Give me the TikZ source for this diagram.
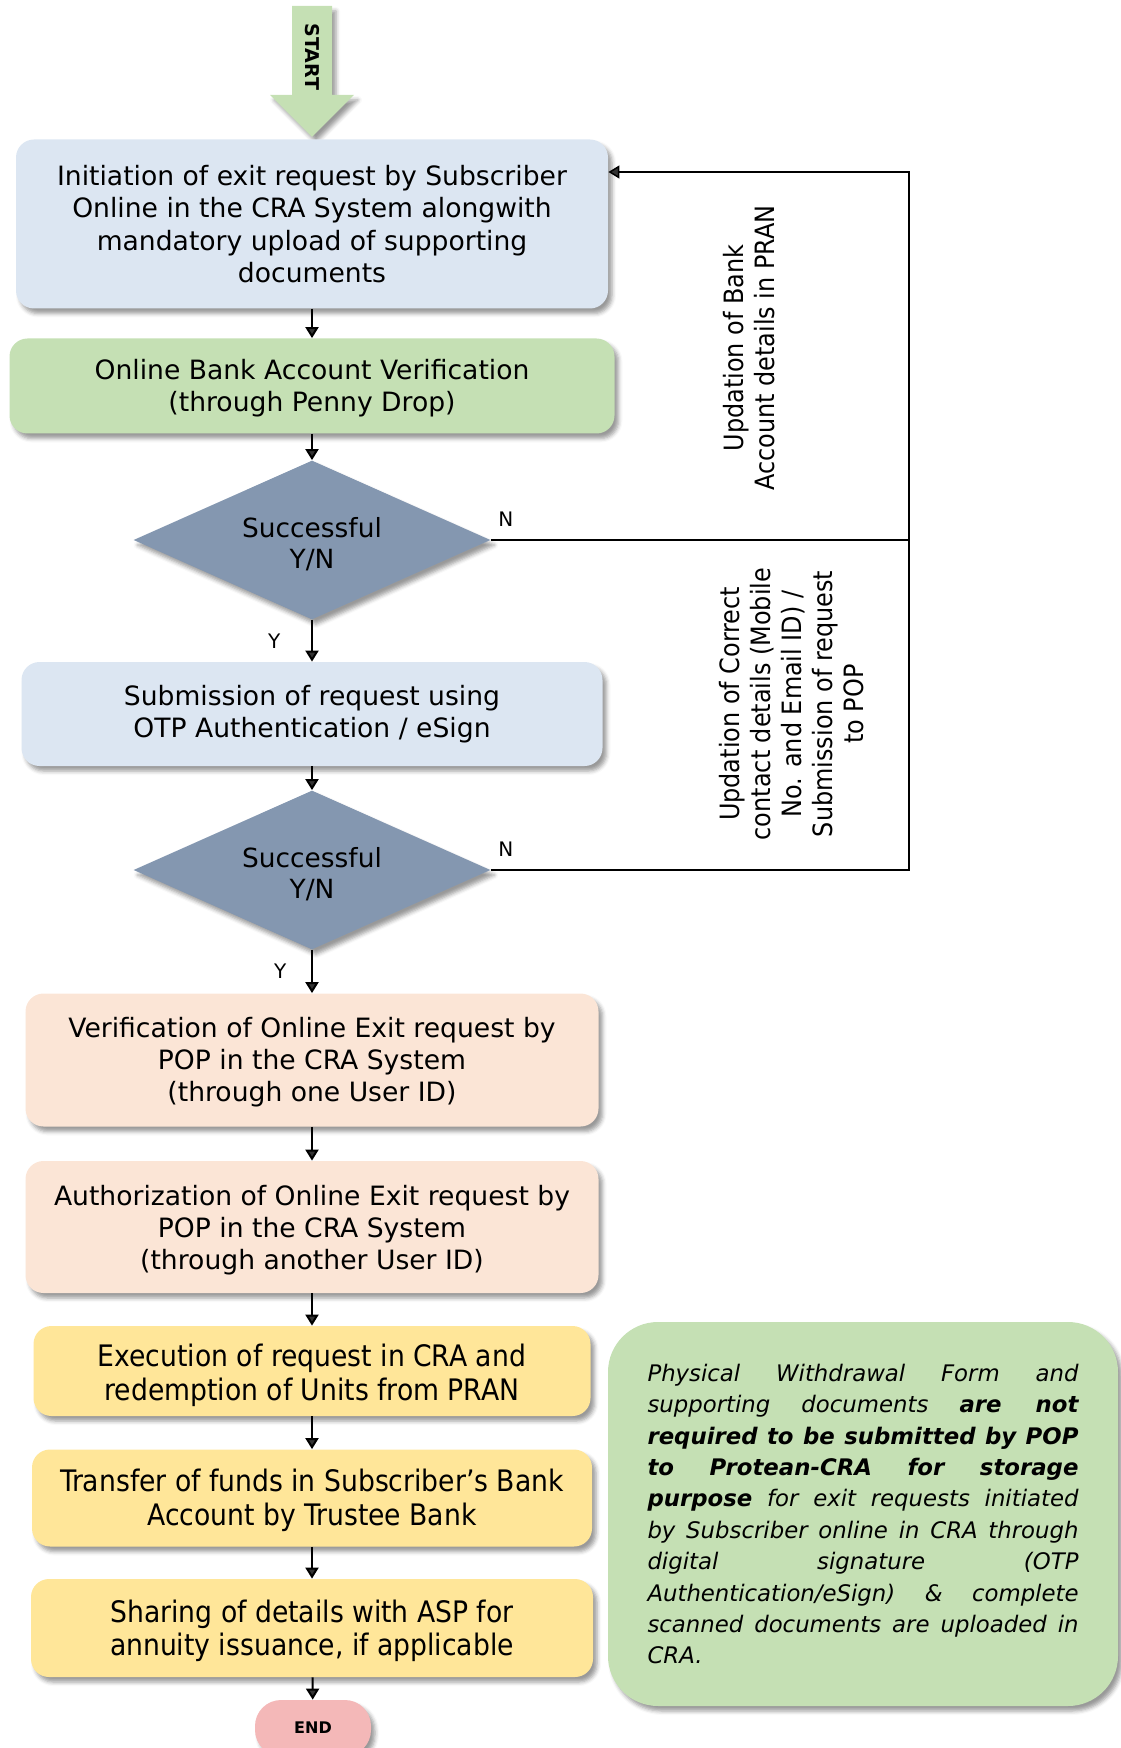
\documentclass[tikz,border=0pt]{standalone}
\usepackage{fontspec}
\setmainfont{DejaVu Sans}
\newfontfamily\condfont{DejaVu Sans Condensed}
\usetikzlibrary{arrows.meta, shapes.geometric, shadows.blur}
\definecolor{boxblue}{HTML}{DCE6F2}
\definecolor{boxgreen}{HTML}{C5E0B4}
\definecolor{boxslate}{HTML}{8497B0}
\definecolor{boxpeach}{HTML}{FBE5D6}
\definecolor{boxyellow}{HTML}{FFE699}
\definecolor{boxpink}{HTML}{F4B8B8}
\newcommand{\dropped}[2]{\raisebox{-#1}[\height][\depth]{\begin{tabular}{@{}c@{}}#2\end{tabular}}}
\tikzset{
	exit flow/.cd,
	shadowed/.style = {
		blur shadow = {shadow xshift = 2pt, shadow yshift = -2.5pt, shadow blur radius = 2pt, shadow opacity = 40}
	},
	box/.style = {
		exit flow/shadowed,
		rounded corners = 9pt,
		align = center,
		inner sep = 0pt,
		font = \fontsize{13.3}{16.2}\selectfont
	},
	arrow/.style = {
		line width = 1pt,
		-{Triangle[length = 5.5pt, width = 6.5pt]}
	},
	loop/.style = {
		line width = 0.75pt
	},
}

\begin{document}
\begin{tikzpicture}[
		x = 0.5pt, y = -0.5pt,
		decision/.style = {
			exit flow/shadowed,
			diamond, aspect = 2.25,
			fill = boxslate,
			inner sep = 0pt,
			minimum width = 178.5pt, minimum height = 79.5pt,
			align = center,
			font = \fontsize{13.2}{15.6}\selectfont
		},
		answer/.style = {
			font = \fontsize{10}{12}\selectfont
		}]
		\useasboundingbox (0, 0) rectangle (1120, 1748);
		% start arrow
		\fill[boxgreen, exit flow/shadowed] (292, 6) -- (332, 6) -- (332, 95) -- (354, 95) -- (312, 137) -- (270, 95) -- (292, 95) -- cycle;
		\node[rotate = -90, font = \bfseries\fontsize{9.5}{11}\selectfont] (start) at (312, 57) {START};
		% main column
		\node[exit flow/box, fill = boxblue, minimum width = 296pt, minimum height = 84.5pt] (init) at (312, 224) {Initiation of exit request by Subscriber\\Online in the CRA System alongwith\\mandatory upload of supporting\\documents};
		\node[exit flow/box, fill = boxgreen, minimum width = 302.5pt, minimum height = 47.5pt] (penny) at (312, 386) {\dropped{1.5pt}{Online Bank Account Verification\\(through Penny Drop)}};
		\node[decision] (okbank) at (312, 540) {\dropped{3.3pt}{Successful\\Y/N}};
		\node[exit flow/box, fill = boxblue, minimum width = 290.5pt, minimum height = 52pt] (otp) at (312, 714) {Submission of request using\\OTP Authentication / eSign};
		\node[decision] (okotp) at (312, 870) {\dropped{3.3pt}{Successful\\Y/N}};
		\node[exit flow/box, fill = boxpeach, minimum width = 286.5pt, minimum height = 66.5pt] (verify) at (312, 1060) {\dropped{1.5pt}{Verification of Online Exit request by\\POP in the CRA System\\(through one User ID)}};
		\node[exit flow/box, fill = boxpeach, minimum width = 286.5pt, minimum height = 66pt] (authorize) at (312, 1227) {\dropped{2pt}{Authorization of Online Exit request by\\POP in the CRA System\\(through another User ID)}};
		\begin{scope}[every node/.style = {exit flow/box, fill = boxyellow, font = \condfont\fontsize{14.8}{16.7}\selectfont}]
			\node[minimum width = 278.5pt, minimum height = 45pt] (execute) at (312, 1371) {\dropped{3pt}{Execution of request in CRA and\\redemption of Units from PRAN}};
			\node[minimum width = 280pt, minimum height = 48.5pt] (transfer) at (312, 1498) {\dropped{2pt}{Transfer of funds in Subscriber’s Bank\\Account by Trustee Bank}};
			\node[minimum width = 281pt, minimum height = 49pt] (annuity) at (312, 1628) {\dropped{2pt}{Sharing of details with ASP for\\annuity issuance, if applicable}};
		\end{scope}
		\node[exit flow/box, fill = boxpink, rounded corners = 13pt, minimum width = 58pt, minimum height = 28pt, font = \bfseries\fontsize{8}{10}\selectfont] (end) at (313, 1728) {END};
		% note
		\node[exit flow/shadowed, fill = boxgreen, rounded corners = 25pt, minimum width = 255pt, minimum height = 192pt, text width = 215.5pt, align = justify, inner sep = 0pt, font = \itshape\fontsize{11.4}{15.7}\selectfont] (note) at (863, 1514) {\hyphenpenalty=10000\exhyphenpenalty=10000
			Physical Withdrawal Form and\linebreak
			supporting documents \textbf{are not}\linebreak
			\textbf{required to be submitted by POP}\linebreak
			\textbf{to Protean-CRA for storage}\linebreak
			\textbf{purpose} for exit requests initiated\linebreak
			by Subscriber online in CRA through\linebreak
			digital signature (OTP\linebreak
			Authentication/eSign) \& complete\linebreak
			scanned documents are uploaded in\linebreak
			CRA.};
		% side labels
		\begin{scope}[every node/.style = {rotate = 90, align = center, font = \condfont\fontsize{13.3}{15.5}\selectfont}]
			\node (bankfix) at (749, 348) {Updation of Bank\\Account details in PRAN};
			\node (contactfix) at (792, 704) {Updation of Correct\\contact details (Mobile\\No. and Email ID) /\\Submission of request\\to POP};
		\end{scope}
		% connectors
		\foreach \from/\to in {init/penny, penny/okbank, otp/okotp, verify/authorize, authorize/execute, execute/transfer, transfer/annuity, annuity/end}
			\draw[exit flow/arrow] (\from) -- (\to);
		\draw[exit flow/arrow] (okbank) -- node[answer, left = 12pt] {Y} (otp);
		\draw[exit flow/arrow] (okotp) -- node[answer, left = 9pt] {Y} (verify);
		\coordinate (loop) at (909, 172);
		\draw[exit flow/loop] (okbank.east) node[answer, anchor = south west, yshift = 3pt] {N} -- (okbank.east -| loop);
		\draw[exit flow/loop, -{Triangle[length = 5.5pt, width = 6.5pt]}] (okotp.east) node[answer, anchor = south west, yshift = 3pt] {N} -- (okotp.east -| loop) -- (loop) -- (loop -| init.east);
	\end{tikzpicture}
\end{document}
